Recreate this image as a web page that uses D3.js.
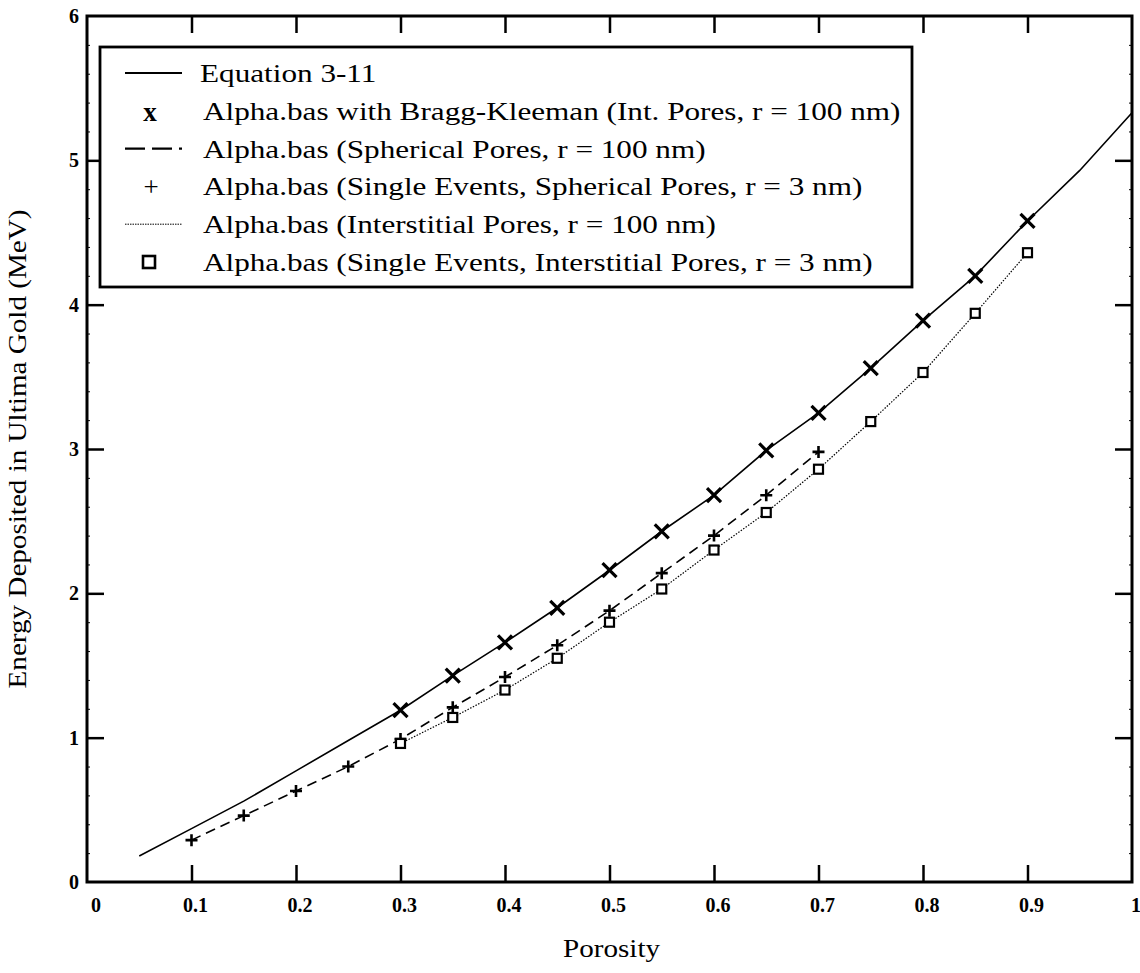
<!DOCTYPE html>
<html><head><meta charset="utf-8">
<script src="https://cdn.jsdelivr.net/npm/d3@7"></script>
<style>body{margin:0;background:#fff}svg{display:block}</style>
</head><body>
<script>
// ---- data ----
const eqPorosity = [0.05,0.1,0.15,0.2,0.25,0.3,0.35,0.4,0.45,0.5,0.55,0.6,0.65,0.7,0.75,0.8,0.85,0.9,0.95,1.0];
const eqEnergy   = [0.18,0.37,0.56,0.77,0.98,1.19,1.43,1.66,1.90,2.16,2.43,2.68,2.99,3.25,3.56,3.89,4.20,4.58,4.93,5.33];

const bkPorosity = [0.3,0.35,0.4,0.45,0.5,0.55,0.6,0.65,0.7,0.75,0.8,0.85,0.9];
const bkEnergy   = [1.19,1.43,1.66,1.90,2.16,2.43,2.68,2.99,3.25,3.56,3.89,4.20,4.58];

const sphPorosity = [0.1,0.15,0.2,0.25,0.3,0.35,0.4,0.45,0.5,0.55,0.6,0.65,0.7];
const sphEnergy   = [0.29,0.46,0.63,0.80,0.99,1.21,1.42,1.64,1.88,2.14,2.40,2.68,2.98];
const sphSingleEnergy = [0.29,0.46,0.63,0.80,0.99,1.21,1.42,1.64,1.88,2.14,2.40,2.68,2.98];

const intPorosity = [0.3,0.35,0.4,0.45,0.5,0.55,0.6,0.65,0.7,0.75,0.8,0.85,0.9];
const intEnergy   = [0.96,1.14,1.33,1.55,1.80,2.03,2.30,2.56,2.86,3.19,3.53,3.94,4.36];
const intSingleEnergy = [0.96,1.14,1.33,1.55,1.80,2.03,2.30,2.56,2.86,3.19,3.53,3.94,4.36];

const xTicks = [0,0.1,0.2,0.3,0.4,0.5,0.6,0.7,0.8,0.9,1];
const xTickLabels = ["0","0.1","0.2","0.3","0.4","0.5","0.6","0.7","0.8","0.9","1"];
const yTicks = [0,1,2,3,4,5,6];
const yTickLabels = ["0","1","2","3","4","5","6"];

const legendLabels = [
  "Equation 3-11",
  "Alpha.bas with Bragg-Kleeman (Int. Pores, r = 100 nm)",
  "Alpha.bas (Spherical Pores, r = 100 nm)",
  "Alpha.bas (Single Events, Spherical Pores, r = 3 nm)",
  "Alpha.bas (Interstitial Pores, r = 100 nm)",
  "Alpha.bas (Single Events, Interstitial Pores, r = 3 nm)"
];
const legendKinds = ["solid","xtext","dashed","plustext","dotted","square"];

const xTitle = "Porosity";
const yTitle = "Energy Deposited in Ultima Gold (MeV)";

// ---- layout ----
const W = 1140, H = 973;
const L = 87, R = 1132, T = 16, B = 882;
const FONT = "'Liberation Serif','Times New Roman',serif";

const svg = d3.select("body").append("svg").attr("width", W).attr("height", H);
svg.append("rect").attr("width", W).attr("height", H).attr("fill", "#fff");

const x = d3.scaleLinear().domain([0,1]).range([L,R]);
const y = d3.scaleLinear().domain([0,6]).range([B,T]);

// minor ticks on y
const minor = d3.range(0, 6.0001, 0.2).filter(v => Math.abs(v - Math.round(v)) > 1e-6);
svg.append("g").attr("transform", `translate(${L},0)`)
  .call(d3.axisRight(y).tickValues(minor).tickSize(3).tickFormat(""))
  .call(g => g.select(".domain").remove())
  .call(g => g.selectAll("line").attr("stroke","#000").attr("stroke-width",1));
svg.append("g").attr("transform", `translate(${R},0)`)
  .call(d3.axisLeft(y).tickValues(minor).tickSize(3).tickFormat(""))
  .call(g => g.select(".domain").remove())
  .call(g => g.selectAll("line").attr("stroke","#000").attr("stroke-width",1));

// major ticks
function styleAxis(g){
  g.select(".domain").remove();
  g.selectAll("line").attr("stroke","#000").attr("stroke-width",2.5);
}
svg.append("g").attr("transform", `translate(0,${B})`)
  .call(d3.axisTop(x).tickValues(xTicks.slice(1,-1)).tickSize(17).tickFormat(""))
  .call(styleAxis);
svg.append("g").attr("transform", `translate(0,${T})`)
  .call(d3.axisBottom(x).tickValues(xTicks.slice(1,-1)).tickSize(17).tickFormat(""))
  .call(styleAxis);
svg.append("g").attr("transform", `translate(${L},0)`)
  .call(d3.axisRight(y).tickValues(yTicks.slice(1,-1)).tickSize(17).tickFormat(""))
  .call(styleAxis);
svg.append("g").attr("transform", `translate(${R},0)`)
  .call(d3.axisLeft(y).tickValues(yTicks.slice(1,-1)).tickSize(17).tickFormat(""))
  .call(styleAxis);

// frame
svg.append("rect").attr("x", L).attr("y", T).attr("width", R-L).attr("height", B-T)
  .attr("fill","none").attr("stroke","#000").attr("stroke-width",3);

// tick labels
svg.append("g").selectAll("text").data(xTicks).join("text")
  .attr("x", (d,i) => x(d) + (i===0 ? 9 : 4))
  .attr("y", B + 30)
  .attr("text-anchor","middle")
  .attr("font-family", FONT).attr("font-size", 20).attr("font-weight","bold")
  .text((d,i) => xTickLabels[i]);
svg.append("g").selectAll("text").data(yTicks).join("text")
  .attr("x", L - 8)
  .attr("y", d => y(d) + 7)
  .attr("text-anchor","end")
  .attr("font-family", FONT).attr("font-size", 20).attr("font-weight","bold")
  .text((d,i) => yTickLabels[i]);

// axis titles
svg.append("text").attr("transform", `translate(${(L+R)/2 + 2},957) scale(1.12,1)`)
  .attr("text-anchor","middle").attr("font-family", FONT).attr("font-size", 26)
  .text(xTitle);
svg.append("text").attr("transform", `translate(26,${(T+B)/2}) rotate(-90) scale(1.12,1)`)
  .attr("text-anchor","middle").attr("font-family", FONT).attr("font-size", 26)
  .text(yTitle);

// lines
const zip = (xs, ys) => xs.map((v,i) => [v, ys[i]]);
const line = d3.line().x(d => x(d[0])).y(d => y(d[1]));

svg.append("path").datum(zip(eqPorosity, eqEnergy)).attr("d", line)
  .attr("fill","none").attr("stroke","#000").attr("stroke-width",1.6);
svg.append("path").datum(zip(sphPorosity, sphEnergy)).attr("d", line)
  .attr("fill","none").attr("stroke","#000").attr("stroke-width",1.6)
  .attr("stroke-dasharray","10,6");
svg.append("path").datum(zip(intPorosity, intEnergy)).attr("d", line)
  .attr("fill","none").attr("stroke","#000").attr("stroke-width",1.2)
  .attr("stroke-dasharray","1.5,1.5");

// markers
const xm = 7, pm = 6, sq = 9;
svg.append("g").selectAll("path").data(zip(bkPorosity, bkEnergy)).join("path")
  .attr("d", d => { const cx = x(d[0]), cy = y(d[1]);
    return `M${cx-xm},${cy-xm}L${cx+xm},${cy+xm}M${cx-xm},${cy+xm}L${cx+xm},${cy-xm}`; })
  .attr("stroke","#000").attr("stroke-width",3.2).attr("fill","none");
svg.append("g").selectAll("path").data(zip(sphPorosity, sphSingleEnergy)).join("path")
  .attr("d", d => { const cx = x(d[0]), cy = y(d[1]);
    return `M${cx-pm},${cy}L${cx+pm},${cy}M${cx},${cy-pm}L${cx},${cy+pm}`; })
  .attr("stroke","#000").attr("stroke-width",2.6).attr("fill","none");
svg.append("g").selectAll("rect").data(zip(intPorosity, intSingleEnergy)).join("rect")
  .attr("x", d => x(d[0]) - sq/2).attr("y", d => y(d[1]) - sq/2)
  .attr("width", sq).attr("height", sq)
  .attr("fill","#fff").attr("stroke","#000").attr("stroke-width",2.2);

// legend
const lg = svg.append("g");
lg.append("rect").attr("x", 100).attr("y", 47).attr("width", 812).attr("height", 240)
  .attr("fill","#fff").attr("stroke","#000").attr("stroke-width",2.8);
const rowY = i => 73 + i * 37.8;
legendKinds.forEach((k, i) => {
  const cy = rowY(i);
  if (k === "solid" || k === "dashed" || k === "dotted") {
    lg.append("line").attr("x1",125).attr("x2",182).attr("y1",cy).attr("y2",cy)
      .attr("stroke","#000")
      .attr("stroke-width", k==="dotted" ? 1 : 2.2)
      .attr("stroke-dasharray", k==="dashed" ? "20,7" : (k==="dotted" ? "1.5,1" : null));
  } else if (k === "xtext") {
    lg.append("text").attr("x",150).attr("y",cy+10).attr("text-anchor","middle")
      .attr("font-family",FONT).attr("font-size",27).attr("font-weight","bold").text("x");
  } else if (k === "plustext") {
    lg.append("text").attr("x",151).attr("y",cy+10).attr("text-anchor","middle")
      .attr("font-family",FONT).attr("font-size",27).text("+");
  } else if (k === "square") {
    lg.append("rect").attr("x",143).attr("y",cy-6).attr("width",12).attr("height",12)
      .attr("fill","#fff").attr("stroke","#000").attr("stroke-width",2.6);
  }
  lg.append("text")
    .attr("transform", `translate(${i===0 ? 200 : 203},${cy + 9}) scale(1.2,1)`)
    .attr("font-family",FONT).attr("font-size",26).text(legendLabels[i]);
});
</script>
</body></html>
